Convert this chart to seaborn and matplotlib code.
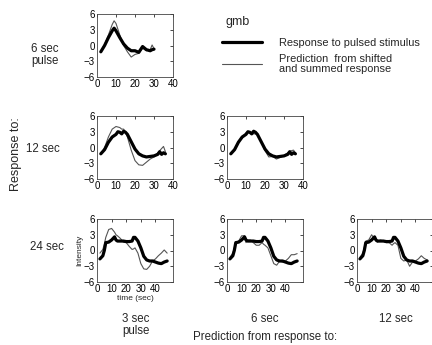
import numpy as np
import pandas as pd
import matplotlib
matplotlib.use("Agg")
import matplotlib.pyplot as plt
import seaborn as sns

# ---------------- data ----------------
# Row 1: 6 sec pulse
x6 = [2, 4, 6, 8, 9, 10, 12, 14, 16, 18, 20, 22, 24, 26, 28, 29, 30]
resp6 = [-1.2, 0.0, 1.5, 2.8, 3.3, 2.8, 1.5, 0.3, -0.5, -1.0, -1.0, -1.3, -0.2, -0.8, -1.0, -0.8, -0.7]
pred6_from3 = [-1.2, 0.2, 2.0, 4.0, 4.7, 4.2, 2.0, 0.0, -1.2, -2.2, -1.7, -1.5, -0.5, -1.0, -0.8, 0.1, -0.6]

# Row 2: 12 sec
x12 = [2, 4, 6, 8, 10, 11, 12, 13, 14, 15, 16, 18, 20, 22, 24, 26, 28, 30, 32, 33, 34, 35, 36]
resp12 = [-1.2, -0.4, 1.0, 2.0, 2.5, 3.0, 2.9, 2.6, 3.1, 2.9, 2.5, 1.1, -0.3, -1.2, -1.6, -1.8, -1.7,
          -1.6, -1.3, -0.8, -1.3, -1.0, -1.2]
pred12_from3 = [-1.2, 0.0, 2.0, 3.5, 4.0, 3.9, 3.8, 3.5, 3.5, 3.0, 2.0, -0.5, -2.5, -3.3, -3.4, -2.8,
                -2.2, -1.8, -1.0, -0.6, -0.2, 0.2, -0.8]
pred12_from6 = [-1.2, -0.3, 1.2, 1.8, 2.8, 2.8, 2.9, 2.7, 2.6, 2.6, 2.5, 1.0, -0.6, -1.8, -1.7, -2.2,
                -1.9, -1.5, -1.0, -0.8, -0.6, -0.5, -1.0]

# Row 3: 24 sec
x24 = [2, 4, 5, 6, 8, 10, 12, 13, 14, 16, 18, 20, 22, 24, 25, 26, 28, 30, 32, 34, 36, 38, 40, 42, 44, 46, 48]
resp24 = [-1.6, -1.0, 0.0, 1.5, 1.6, 2.0, 2.6, 2.0, 1.8, 1.8, 1.8, 1.7, 1.7, 1.8, 2.5, 2.5, 1.8, 0.5,
          -1.1, -1.8, -2.0, -2.0, -2.2, -2.4, -2.5, -2.2, -2.0]
pred24_from3 = [-0.5, 0.2, 1.2, 2.5, 4.0, 4.2, 3.5, 3.0, 2.8, 2.3, 1.6, 1.5, 0.8, 0.2, 0.3, 0.5, -0.5,
                -2.5, -3.5, -3.6, -3.0, -2.0, -1.6, -1.0, -0.5, 0.1, -0.5]
pred24_from6 = [-1.3, -0.5, 0.5, 1.6, 1.8, 2.8, 2.8, 1.5, 2.0, 2.0, 1.5, 1.0, 1.0, 1.5, 1.2, 1.0, 0.5,
                -1.0, -2.5, -2.8, -2.0, -2.2, -2.0, -1.5, -0.8, -0.8, -0.6]
pred24_from12 = [-1.3, -0.5, 0.6, 1.8, 2.0, 3.0, 2.2, 1.8, 1.6, 2.0, 1.8, 1.5, 1.5, 1.0, 1.3, 1.5, 1.0,
                 -1.5, -2.0, -1.8, -3.0, -2.2, -2.0, -1.6, -1.0, -1.5, -1.8]

row_labels = ["6 sec\npulse", "12 sec", "24 sec"]
col_labels = ["3 sec\npulse", "6 sec", "12 sec"]
yticks = [-6, -3, 0, 3, 6]
xticks = [0, 10, 20, 30, 40]
legend_labels = ["Response to pulsed stimulus", "Prediction  from shifted\nand summed response"]

panels = [
    # (row, col, x, response, prediction, xmax)
    (0, 0, x6, resp6, pred6_from3, 40),
    (1, 0, x12, resp12, pred12_from3, 40),
    (1, 1, x12, resp12, pred12_from6, 40),
    (2, 0, x24, resp24, pred24_from3, 52),
    (2, 1, x24, resp24, pred24_from6, 52),
    (2, 2, x24, resp24, pred24_from12, 52),
]

# ---------------- style ----------------
sns.set_style("white")
plt.rcParams['font.family'] = ['Liberation Sans', 'DejaVu Sans']
plt.rcParams['axes.unicode_minus'] = True

W, H = 432, 345
fig = plt.figure(figsize=(W / 100, H / 100), dpi=100)

col_left = [97, 227, 357]
row_top = [14, 116, 219]
aw, ah = 76, 63

handles = None
for (r, c, xs, resp, pred, xmax) in panels:
    ax = fig.add_axes([col_left[c] / W, 1 - (row_top[r] + ah) / H, aw / W, ah / H])
    df = pd.DataFrame({
        "time": list(xs) * 2,
        "val": list(resp) + list(pred),
        "kind": [legend_labels[0]] * len(xs) + [legend_labels[1]] * len(xs),
    })
    sns.lineplot(data=df, x="time", y="val", hue="kind", size="kind",
                 palette={legend_labels[0]: "black", legend_labels[1]: "#555555"},
                 sizes={legend_labels[0]: 2.3, legend_labels[1]: 0.8},
                 hue_order=[legend_labels[1], legend_labels[0]],
                 ax=ax, legend=False)
    ax.set_xlim(0, xmax)
    ax.set_ylim(-6, 6)
    ax.set_xticks(xticks)
    ax.set_yticks(yticks)
    ax.tick_params(direction="in", length=2, width=0.5, labelsize=7, pad=1.5,
                   top=True, right=True, colors="black")
    for s in ax.spines.values():
        s.set_linewidth(0.6)
        s.set_color("#444444")
    ax.set_xlabel("")
    ax.set_ylabel("")
    if r == 2 and c == 0:
        ax.set_ylabel("Intensity", fontsize=6, labelpad=0)
        ax.set_xlabel("time (sec)", fontsize=6, labelpad=1)
    if r == 0:
        handles = ax.get_lines()

# legend (lines from first panel)
thick = handles[1]
thin = handles[0]
leg = fig.legend([thick, thin], legend_labels, loc="upper left",
                 bbox_to_anchor=(212 / W, 1 - 28 / H), frameon=False,
                 fontsize=7.9, handlelength=3.7, handletextpad=1.5, labelspacing=0.55)
for t in leg.get_texts():
    t.set_linespacing(0.95)

fig.text(238 / W, 1 - 22 / H, "gmb", fontsize=9, ha="center", va="center")

# row labels
for lbl, (xp, yp) in zip(row_labels, [(45, 55), (43, 149), (47, 247)]):
    fig.text(xp / W, 1 - yp / H, lbl, fontsize=8.3, ha="center", va="center", linespacing=1.0)
fig.text(16 / W, 1 - 154 / H, "Response to:", fontsize=9, rotation=90, ha="center", va="center")

# column labels
for lbl, xp in zip(col_labels, [136, 265, 396]):
    fig.text(xp / W, 1 - 313 / H, lbl, fontsize=8.3, ha="center", va="top", linespacing=1.0)
fig.text(265 / W, 1 - 337 / H, "Prediction from response to:", fontsize=8.3, ha="center", va="center")

fig.savefig("out.png", dpi=100)
